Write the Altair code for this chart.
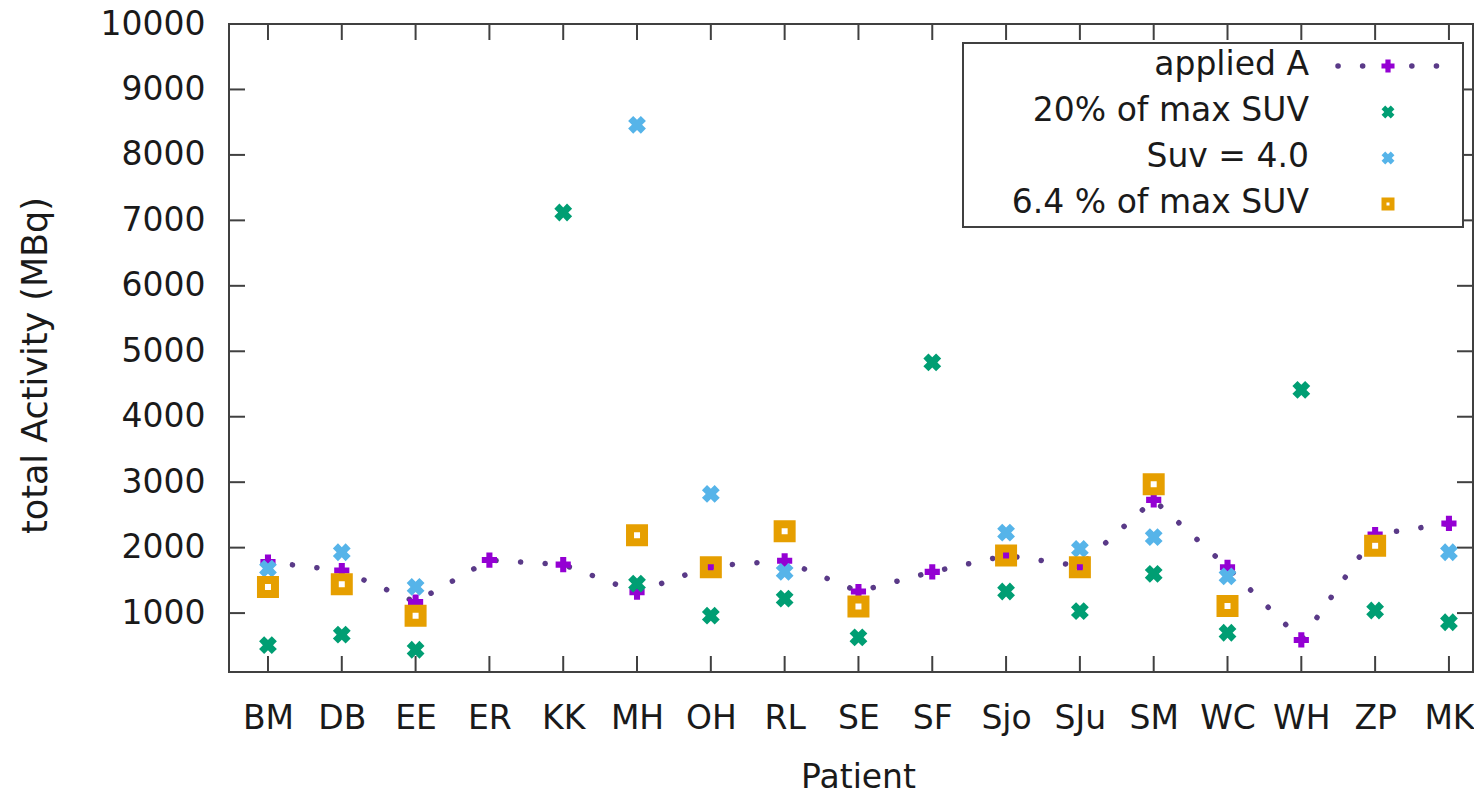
import altair as alt
import pandas as pd

# ---- data ----
patients = ["BM", "DB", "EE", "ER", "KK", "MH", "OH", "RL", "SE", "SF",
            "Sjo", "SJu", "SM", "WC", "WH", "ZP", "MK"]
applied_a = [1780, 1650, 1170, 1810, 1740, 1320, 1720, 1800, 1330, 1630,
             1880, 1720, 2730, 1700, 590, 2200, 2370]
suv20 = [510, 670, 440, None, 7120, 1450, 960, 1220, 630, 4830,
         1330, 1030, 1600, 700, 4410, 1040, 860]
suv4 = [1680, 1930, 1400, None, None, 8460, 2820, 1630, None, None,
        2230, 1980, 2160, 1560, 7470, None, 1930]
suv64 = [1400, 1440, 960, None, None, 2190, 1700, 2250, 1100, None,
         1880, 1700, 2970, 1110, None, 2030, None]
y_ticks = [1000, 2000, 3000, 4000, 5000, 6000, 7000, 8000, 9000, 10000]
legend_labels = ["applied A", "20% of max SUV", "Suv = 4.0", "6.4 % of max SUV"]

PURPLE = "#9400d3"
GREEN = "#009e73"
BLUE = "#56b4e9"
GOLD = "#e69f00"
DOTS = "#5a3a88"
FRAME = "#404040"
TXT = "#1a1a1a"
FONT = "DejaVu Sans"

W, H = 1244, 648
TICK = 16

idx = list(range(len(patients)))
df = pd.DataFrame({"idx": idx, "patient": patients, "applied": applied_a,
                   "suv20": suv20, "suv4": suv4, "suv64": suv64})

xscale = alt.Scale(domain=[-0.528, 16.326], nice=False, zero=False)
yscale = alt.Scale(domain=[100, 10000], nice=False, zero=False)

label_js = "[" + ",".join("'%s'" % p for p in patients) + "][datum.value]"

x_axis = alt.Axis(values=idx, labelExpr=label_js, ticks=False, domain=False, grid=False,
                  labelPadding=30, labelFontSize=33, labelColor=TXT, labelFont=FONT,
                  labelFlush=False, labelOverlap=False, labelBound=False,
                  title="Patient", titleFontSize=33, titleFont=FONT, titleColor=TXT,
                  titleFontWeight="normal", titleX=629, titleY=115, titleBaseline="alphabetic")
y_axis = alt.Axis(values=y_ticks, format="d", ticks=False, domain=False, grid=False,
                  labelPadding=24, labelFontSize=33, labelColor=TXT, labelFont=FONT,
                  labelFlush=False, labelOverlap=False, labelBound=False,
                  title="total Activity (MBq)", titleFontSize=35, titleFont=FONT,
                  titleColor=TXT, titleFontWeight="normal", titleX=-176, titleY=341)

base = alt.Chart(df)

line = base.mark_line(color=DOTS, strokeWidth=5.5, strokeDash=[0.1, 24.5], strokeCap="round").encode(
    x=alt.X("idx:Q", scale=xscale, axis=x_axis),
    y=alt.Y("applied:Q", scale=yscale, axis=y_axis),
)
pts_a = base.mark_point(shape="cross", filled=True, size=230, color=PURPLE, opacity=1).encode(
    x=alt.X("idx:Q", scale=xscale), y=alt.Y("applied:Q", scale=yscale))
pts_20 = alt.Chart(df.dropna(subset=["suv20"])).mark_point(
    shape="cross", angle=45, filled=True, size=324, color=GREEN, opacity=1).encode(
    x=alt.X("idx:Q", scale=xscale), y=alt.Y("suv20:Q", scale=yscale))
pts_4 = alt.Chart(df.dropna(subset=["suv4"])).mark_point(
    shape="cross", angle=45, filled=True, size=324, color=BLUE, opacity=1).encode(
    x=alt.X("idx:Q", scale=xscale), y=alt.Y("suv4:Q", scale=yscale))
pts_64 = alt.Chart(df.dropna(subset=["suv64"])).mark_point(
    shape="square", filled=False, strokeWidth=8, size=196, color=GOLD, opacity=1).encode(
    x=alt.X("idx:Q", scale=xscale), y=alt.Y("suv64:Q", scale=yscale))

# inward ticks on all four sides
tx = pd.DataFrame({"idx": idx})
ty = pd.DataFrame({"v": y_ticks})
tick_bottom = alt.Chart(tx).mark_rule(color=FRAME, strokeWidth=2).encode(
    x=alt.X("idx:Q", scale=xscale), y=alt.value(H), y2=alt.value(H - TICK))
tick_top = alt.Chart(tx).mark_rule(color=FRAME, strokeWidth=2).encode(
    x=alt.X("idx:Q", scale=xscale), y=alt.value(0), y2=alt.value(TICK))
tick_left = alt.Chart(ty).mark_rule(color=FRAME, strokeWidth=2).encode(
    y=alt.Y("v:Q", scale=yscale), x=alt.value(0), x2=alt.value(TICK))
tick_right = alt.Chart(ty).mark_rule(color=FRAME, strokeWidth=2).encode(
    y=alt.Y("v:Q", scale=yscale), x=alt.value(W - TICK), x2=alt.value(W))

# legend (gnuplot style: label right-aligned, sample on the right)
one = pd.DataFrame({"k": [0]})
box = alt.Chart(one).mark_rect(fill="white", stroke=FRAME, strokeWidth=2).encode(
    x=alt.value(734), x2=alt.value(1234), y=alt.value(19), y2=alt.value(203))
rows_y = [42, 88, 134, 180]
legend_layers = [box]
for lab, ry in zip(legend_labels, rows_y):
    legend_layers.append(
        alt.Chart(pd.DataFrame({"label": [lab]})).mark_text(
            align="right", baseline="middle", fontSize=33, font=FONT, color=TXT).encode(
            x=alt.value(1080), y=alt.value(ry - 1), text="label:N"))
SX = 1159
legend_layers.append(alt.Chart(one).mark_rule(
    color=DOTS, strokeWidth=5.5, strokeDash=[0.1, 24.5], strokeCap="round").encode(
    x=alt.value(1109), x2=alt.value(1208), y=alt.value(rows_y[0])))
legend_layers.append(alt.Chart(one).mark_point(
    shape="cross", filled=True, size=170, color=PURPLE, opacity=1).encode(
    x=alt.value(SX), y=alt.value(rows_y[0])))
legend_layers.append(alt.Chart(one).mark_point(
    shape="cross", angle=45, filled=True, size=170, color=GREEN, opacity=1).encode(
    x=alt.value(SX), y=alt.value(rows_y[1])))
legend_layers.append(alt.Chart(one).mark_point(
    shape="cross", angle=45, filled=True, size=170, color=BLUE, opacity=1).encode(
    x=alt.value(SX), y=alt.value(rows_y[2])))
legend_layers.append(alt.Chart(one).mark_point(
    shape="square", filled=False, strokeWidth=5, size=64, color=GOLD, opacity=1).encode(
    x=alt.value(SX), y=alt.value(rows_y[3])))

chart = alt.layer(
    tick_bottom, tick_top, tick_left, tick_right,
    line, pts_a, pts_20, pts_4, pts_64,
    *legend_layers,
).properties(
    width=W, height=H,
    padding={"left": 221, "top": 16, "right": 1, "bottom": 122},
    autosize=alt.AutoSizeParams(type="none"),
    background="white",
).configure_view(
    stroke=FRAME, strokeWidth=2,
)

chart.save("out.html", embed_options={"renderer": "svg", "actions": False})
